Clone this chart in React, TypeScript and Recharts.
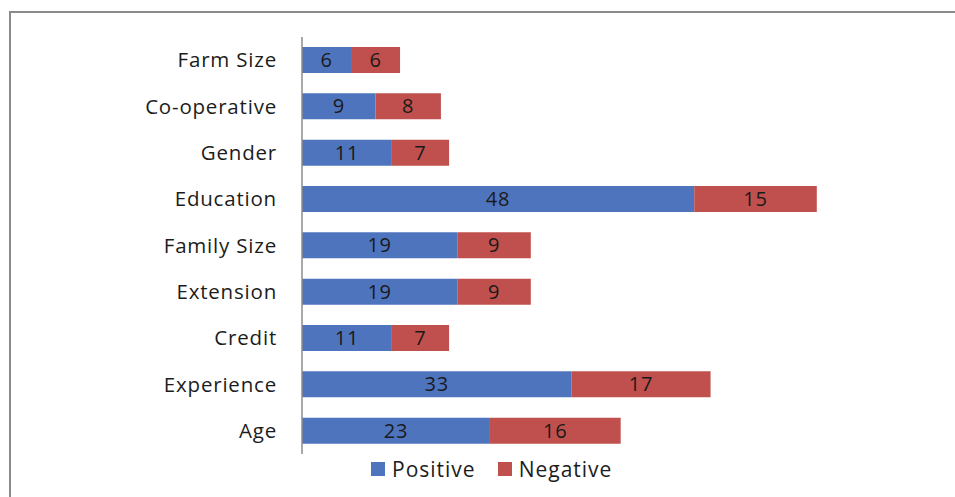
import { Bar, BarChart, LabelList, XAxis, YAxis } from "recharts";

const FACTORS = [
  "Farm Size",
  "Co-operative",
  "Gender",
  "Education",
  "Family Size",
  "Extension",
  "Credit ",
  "Experience",
  "Age",
];
const POSITIVE = [6, 9, 11, 48, 19, 19, 11, 33, 23];
const NEGATIVE = [6, 8, 7, 15, 9, 9, 7, 17, 16];

const BLUE = "#4F74BE";
const RED = "#C0504D";
const FONT = "'Open Sans', sans-serif";

const data = FACTORS.map((factor, i) => ({
  factor,
  positive: POSITIVE[i],
  negative: NEGATIVE[i],
}));

const LEGEND = [
  { name: "Positive", color: BLUE },
  { name: "Negative", color: RED },
];

const LABEL_STYLE = { letterSpacing: "0.8px" };

export default function App() {
  return (
    <div
      style={{
        position: "fixed",
        left: 0,
        top: 0,
        width: 955,
        height: 497,
        overflow: "hidden",
        background: "#fff",
        fontFamily: FONT,
      }}
    >
      {/* outer frame, runs past the right and bottom edges */}
      <div
        style={{
          position: "absolute",
          left: 9,
          top: 11,
          width: 980,
          height: 520,
          border: "2px solid #8a8a8a",
        }}
      />
      <div style={{ position: "absolute", left: 0, top: 0 }}>
        <BarChart
          width={900}
          height={497}
          data={data}
          layout="vertical"
          margin={{ top: 37, right: 26, bottom: 43, left: 0 }}
        >
          <XAxis type="number" domain={[0, 70]} hide />
          <YAxis
            type="category"
            dataKey="factor"
            width={302}
            axisLine={{ stroke: "#8c8c8c", strokeWidth: 1.5 }}
            tickLine={false}
            tickSize={0}
            tickMargin={25}
            tick={{ fill: "#1c1c1c", fontSize: 20.5, fontFamily: FONT, style: LABEL_STYLE }}
          />
          <Bar dataKey="positive" stackId="a" fill={BLUE} barSize={26} isAnimationActive={false}>
            <LabelList
              dataKey="positive"
              position="center"
              fill="#1a1a1a"
              fontSize={20}
              fontFamily={FONT}
              style={LABEL_STYLE}
            />
          </Bar>
          <Bar dataKey="negative" stackId="a" fill={RED} barSize={26} isAnimationActive={false}>
            <LabelList
              dataKey="negative"
              position="center"
              fill="#1a1a1a"
              fontSize={20}
              fontFamily={FONT}
              style={LABEL_STYLE}
            />
          </Bar>
        </BarChart>
      </div>
      <div
        style={{
          position: "absolute",
          left: 371,
          top: 455,
          display: "flex",
          alignItems: "center",
          gap: 22,
          fontSize: 21,
          letterSpacing: "1px",
          color: "#1c1c1c",
        }}
      >
        {LEGEND.map((item) => (
          <div key={item.name} style={{ display: "flex", alignItems: "center", gap: 7 }}>
            <span style={{ width: 14, height: 14, background: item.color, display: "inline-block" }} />
            <span>{item.name}</span>
          </div>
        ))}
      </div>
    </div>
  );
}
